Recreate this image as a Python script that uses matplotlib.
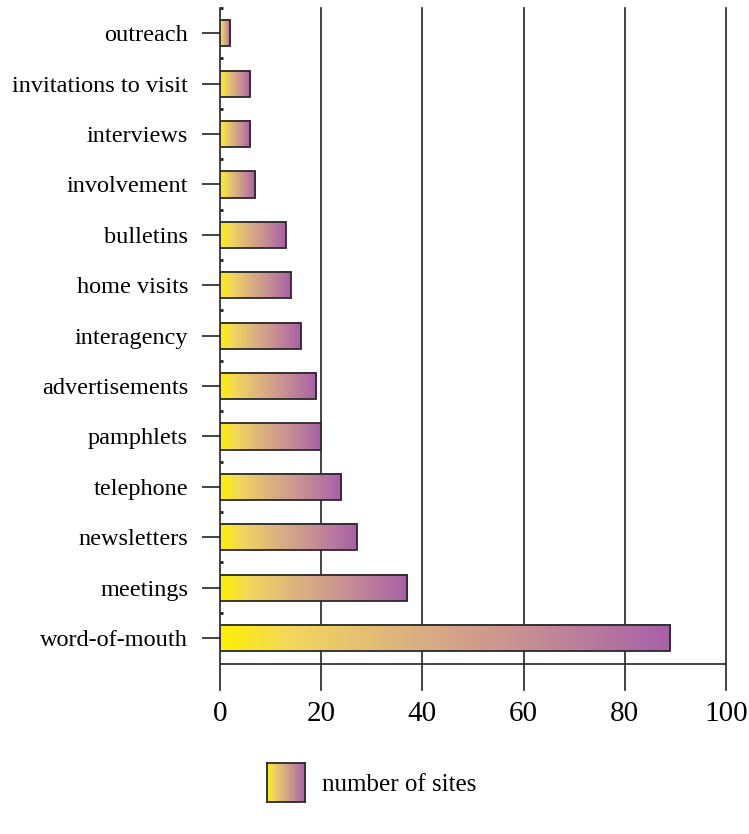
import numpy as np
import matplotlib
matplotlib.use("Agg")
import matplotlib.pyplot as plt
from matplotlib.colors import LinearSegmentedColormap
from matplotlib.patches import Rectangle

categories = ["word-of-mouth", "meetings", "newsletters", "telephone", "pamphlets",
              "advertisements", "interagency", "home visits", "bulletins",
              "involvement", "interviews", "invitations to visit", "outreach"]
values = [89, 37, 27, 24, 20, 19, 16, 14, 13, 7, 6, 6, 2]
xticks = [0, 20, 40, 60, 80, 100]
legend_label = "number of sites"

plt.rcParams['font.family'] = ['Liberation Serif', 'DejaVu Serif']

cmap = LinearSegmentedColormap.from_list("yp", [
    (0.0, "#FFF000"), (0.15, "#F3D85C"), (0.4, "#DDB47E"),
    (0.7, "#C68C96"), (1.0, "#A660A8")])
grad = np.linspace(0, 1, 256).reshape(1, -1)

fig = plt.figure(figsize=(7.49, 8.34), dpi=100)
ax = fig.add_axes([220/749, 1-690/834, (726-220)/749, (690-8)/834])

ymin, ymax = -1.03, 12.5
bh = 0.52
for i, (c, v) in enumerate(zip(categories, values)):
    ax.imshow(grad, cmap=cmap, aspect='auto', extent=(0, v, i-bh/2, i+bh/2),
              interpolation='bicubic', zorder=3)
    ax.add_patch(Rectangle((0, i-bh/2), v, bh, fill=False, ec="#2a2a2a", lw=1.3, zorder=4))

for x in xticks:
    ax.plot([x, x], [ymin, ymax], color="#222222", lw=1.2, zorder=2, clip_on=False)
ax.plot([0, 100], [-0.52, -0.52], color="#222222", lw=1.2, zorder=2)

ax.set_xlim(0, 100)
ax.set_ylim(ymin, ymax)
for s in ax.spines.values():
    s.set_visible(False)
ax.set_xticks(xticks)
ax.set_xticklabels([str(x) for x in xticks], fontsize=21)
ax.tick_params(axis='x', length=0, pad=8)
ax.set_yticks(range(len(categories)))
ax.set_yticklabels(categories, fontsize=17.5)
ax.tick_params(axis='y', length=13, width=1.2, color="#222222", pad=10)
ax.set_yticks(np.arange(0.5, 12.6, 1), minor=True)
ax.tick_params(axis='y', which='minor', direction='in', length=2.5, width=2, color="#222222")

# legend
lax = fig.add_axes([267/749, 1-802/834, 38/749, 39/834])
lax.imshow(grad, cmap=cmap, aspect='auto', interpolation='bicubic')
lax.set_xticks([]); lax.set_yticks([])
for s in lax.spines.values():
    s.set_linewidth(1.3); s.set_color("#2a2a2a")
fig.text(322/749, 1-785/834, legend_label, fontsize=18, va='center', ha='left')

fig.savefig("out.png", dpi=100)
